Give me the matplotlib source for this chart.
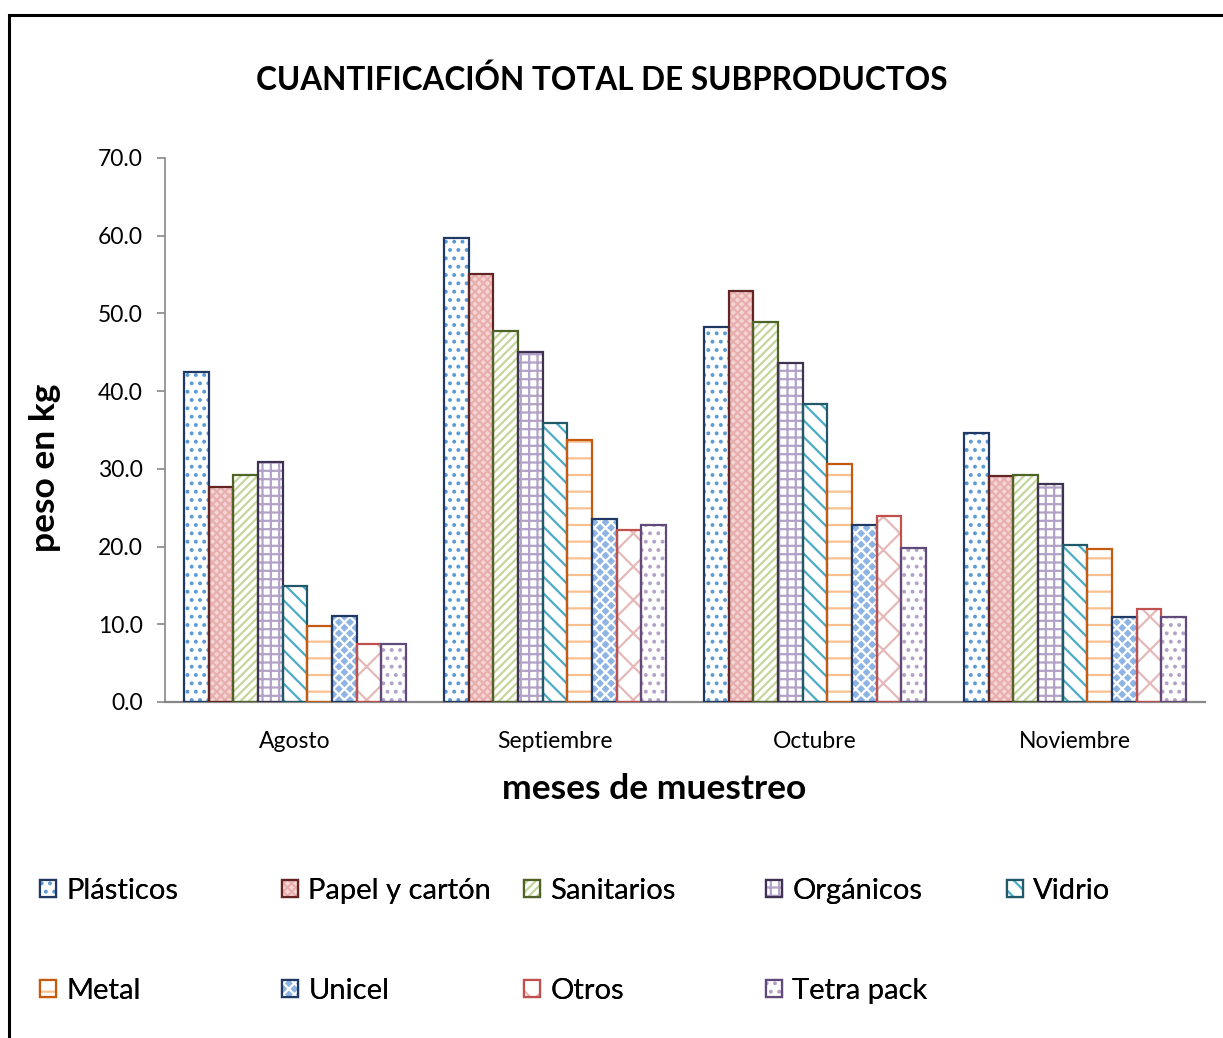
import numpy as np
import matplotlib
matplotlib.use("Agg")
import matplotlib.pyplot as plt
from matplotlib.patches import Patch, Rectangle
from matplotlib.legend_handler import HandlerTuple

plt.rcParams['font.family'] = ['Lato', 'DejaVu Sans']
plt.rcParams['hatch.linewidth'] = 1.6

# monthly weights (kg) per waste category
months = ['Agosto', 'Septiembre', 'Octubre', 'Noviembre']
plasticos = [42.5, 59.7, 48.3, 34.6]
papel = [27.7, 55.1, 52.9, 29.1]
sanitarios = [29.2, 47.7, 48.9, 29.2]
organicos = [30.9, 45.0, 43.6, 28.1]
vidrio = [14.9, 35.9, 38.3, 20.2]
metal = [9.8, 33.7, 30.6, 19.7]
unicel = [11.1, 23.5, 22.8, 10.9]
otros = [7.5, 22.1, 23.9, 12.0]
tetra = [7.5, 22.8, 19.8, 10.9]

names = ['Plásticos', 'Papel y cartón', 'Sanitarios', 'Orgánicos', 'Vidrio',
         'Metal', 'Unicel', 'Otros', 'Tetra pack']
series = [plasticos, papel, sanitarios, organicos, vidrio, metal, unicel, otros, tetra]

# (outline, fill, hatch colour, hatch)
styles = [
    ('#1F3864', 'white', '#5B9BD5', '..'),
    ('#632523', '#F4D6D5', '#E8AFAE', 'xxxx'),
    ('#4F6228', 'white', '#C3D69B', '////'),
    ('#3F3151', 'white', '#B3A2C7', '++'),
    ('#215968', 'white', '#4BACC6', '\\\\'),
    ('#C55A11', 'white', '#FAC090', '-'),
    ('#1F3864', '#8DB4E2', 'white', 'xxx'),
    ('#C0504D', 'white', '#E6B9B8', 'x'),
    ('#604A7B', 'white', '#B3A2C7', '..'),
]

W, H = 1223, 1038
fig = plt.figure(figsize=(W / 100, H / 100), dpi=100)
ax = fig.add_axes([165 / W, 1 - 702 / H, 1040 / W, 544 / H])

x = np.arange(len(months))
bw = 0.095
handles = []
for i, (vals, (edge, face, hcol, hatch)) in enumerate(zip(series, styles)):
    pos = x + (i - 4) * bw
    ax.bar(pos, vals, bw, color=face, edgecolor=hcol, hatch=hatch, linewidth=0, zorder=2)
    ax.bar(pos, vals, bw, fill=False, edgecolor=edge, linewidth=1.6, zorder=3)
    h1 = Patch(facecolor=face, edgecolor=hcol, hatch=hatch, linewidth=0)
    h2 = Patch(fill=False, edgecolor=edge, linewidth=1.6)
    handles.append((h1, h2))

ax.set_xlim(-0.5, 3.5)
ax.set_ylim(0, 70)
ax.set_yticks(np.arange(0, 71, 10))
ax.set_yticklabels([f'{v:.1f}' for v in np.arange(0, 71, 10)], fontsize=16.5)
ax.set_xticks(x)
ax.set_xticklabels(months, fontsize=16.5)
ax.tick_params(axis='x', length=0, pad=21)
ax.tick_params(axis='y', length=6, width=1.2, color='#888888', pad=10)
for s in ['top', 'right']:
    ax.spines[s].set_visible(False)
ax.spines['left'].set_color('#888888')
ax.spines['bottom'].set_color('#888888')
ax.spines['left'].set_linewidth(1.2)
ax.spines['bottom'].set_linewidth(1.6)

fig.text(602 / W, 1 - 80 / H, 'CUANTIFICACIÓN TOTAL DE SUBPRODUCTOS',
         ha='center', va='center', fontsize=22.7, fontweight='bold')
fig.text(654 / W, 1 - 789 / H, 'meses de muestreo',
         ha='center', va='center', fontsize=25.5, fontweight='bold')
fig.text(45 / W, 1 - 468 / H, 'peso en kg', rotation=90,
         ha='center', va='center', fontsize=25.5, fontweight='bold')

# legend entries laid out on a 5-column grid
col_x = [40, 282, 524, 766, 1007]
row_y = [891, 991]
for k, (h, name) in enumerate(zip(handles, names)):
    r, c = divmod(k, 5)
    leg = fig.legend([h], [name], loc='center left',
                     bbox_to_anchor=(col_x[c] / W, 1 - row_y[r] / H),
                     frameon=False, fontsize=21, borderpad=0, borderaxespad=0,
                     handlelength=0.55, handleheight=0.55, handletextpad=0.35,
                     handler_map={tuple: HandlerTuple(ndivide=1)})
    fig.add_artist(leg)

# outer frame of the chart area
fig.add_artist(Rectangle((9 / W, -0.1), 1.2, 1 - 15 / H + 0.1,
                         transform=fig.transFigure, fill=False,
                         edgecolor='black', linewidth=2.2))

fig.savefig('out.png', dpi=100)
